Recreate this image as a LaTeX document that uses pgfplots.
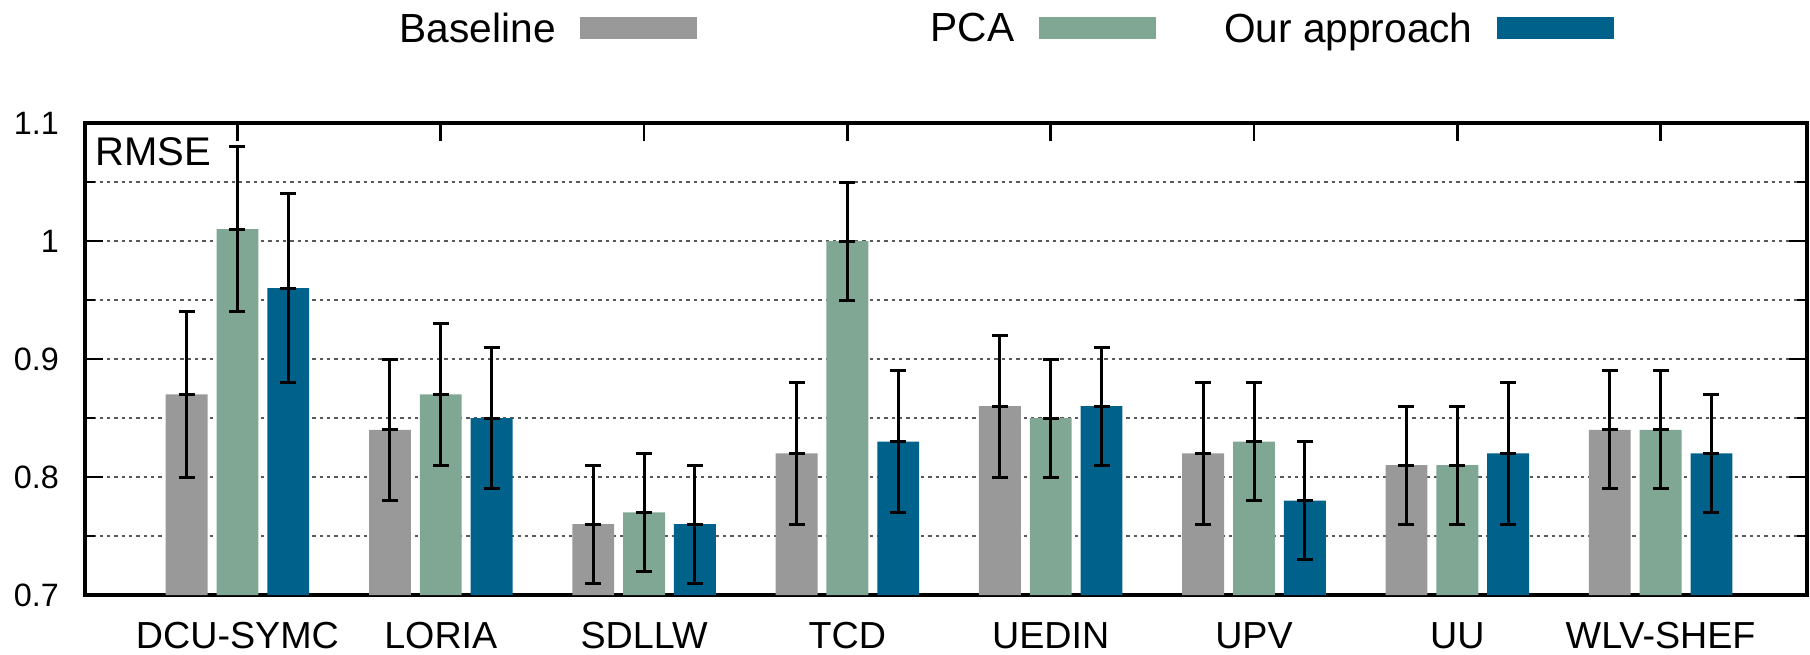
\documentclass[border=0pt]{standalone}
\usepackage{pgfplots}
\pgfplotsset{compat=1.18}
\usepackage{fontspec}
\setmainfont{Liberation Sans}
\definecolor{cbase}{RGB}{153,153,153}
\definecolor{cpca}{RGB}{128,167,148}
\definecolor{cours}{RGB}{0,98,139}
\pgfplotsset{
  myleg/.style={legend image code/.code={%
    \path[draw=none,fill=none] (0pt,-5pt) rectangle (57.55pt,12pt);
    \fill[##1,draw=none] (7.3pt,-2.7pt) rectangle (42.4pt,3.8pt);}},
  myerr/.style={
    /pgfplots/error bars/.cd, y dir=both, y explicit,
    error mark=-,
    error bar style={line width=0.9pt, black, solid},
    error mark options={rotate=90, line width=0.9pt, mark size=2.4pt, black, solid},
    /pgfplots/.cd},
}
\begin{document}
\begin{tikzpicture}
\useasboundingbox (-25.5pt,-17.7pt) rectangle (517.5pt,178.5pt);
\begin{axis}[
  scale only axis, width=516.6pt, height=141.6pt,
  xmin=-0.75, xmax=7.72, ymin=0.7, ymax=1.1,
  ybar, bar width=0.206,
  xtick={0,...,7},
  xticklabels={DCU-SYMC,LORIA,SDLLW,TCD,UEDIN,UPV,UU,WLV-SHEF},
  xtick pos=right, xticklabel pos=left,
  ytick={0.7,0.8,0.9,1.0,1.1},
  yticklabels={0.7,0.8,0.9,1,1.1},
  minor ytick={0.75,0.85,0.95,1.05},
  ymajorgrids, yminorgrids,
  major grid style={line width=0.5pt, black!65, dash pattern=on 1pt off 1.2pt},
  minor grid style={line width=0.5pt, black!65, dash pattern=on 1pt off 1.2pt},
  tick align=inside,
  major tick length=5.3pt, minor tick length=3pt,
  tick style={line width=0.8pt, black},
  axis line style={line width=1pt},
  x tick label style={font=\fontsize{11.3}{13}\selectfont, yshift=-4.6pt},
  y tick label style={font=\fontsize{9.7}{11}\selectfont, xshift=-4.3pt},
  legend columns=3, legend plot pos=right,
  legend style={at={(rel axis cs:0,1)}, anchor=south west,
    xshift=61.2pt, yshift=22.8pt, draw=none, fill=none,
    inner sep=0pt, outer sep=0pt,
    font=\fontsize{12.2}{14}\selectfont,
    nodes={inner sep=0pt}},
]
\addplot[fill=cbase, draw=none, bar shift=0, mark=-,
  mark options={black, solid, line width=0.9pt, mark size=2.4pt}, myleg, myerr]
  coordinates {(-0.25,0.87) +- (0,0.07) (0.75,0.84) +- (0,0.06) (1.75,0.76) +- (0,0.05)
  (2.75,0.82) +- (0,0.06) (3.75,0.86) +- (0,0.06) (4.75,0.82) +- (0,0.06)
  (5.75,0.81) +- (0,0.05) (6.75,0.84) +- (0,0.05)};
\addlegendentry{\makebox[80pt][r]{Baseline}}
\addplot[fill=cpca, draw=none, bar shift=0, mark=-,
  mark options={black, solid, line width=0.9pt, mark size=2.4pt}, myleg, myerr]
  coordinates {(0,1.01) +- (0,0.07) (1,0.87) +- (0,0.06) (2,0.77) +- (0,0.05)
  (3,1.00) +- (0,0.05) (4,0.85) +- (0,0.05) (5,0.83) +- (0,0.05)
  (6,0.81) +- (0,0.05) (7,0.84) +- (0,0.05)};
\addlegendentry{\makebox[80pt][r]{PCA}}
\addplot[fill=cours, draw=none, bar shift=0, mark=-,
  mark options={black, solid, line width=0.9pt, mark size=2.4pt}, myleg, myerr]
  coordinates {(0.25,0.96) +- (0,0.08) (1.25,0.85) +- (0,0.06) (2.25,0.76) +- (0,0.05)
  (3.25,0.83) +- (0,0.06) (4.25,0.86) +- (0,0.05) (5.25,0.78) +- (0,0.05)
  (6.25,0.82) +- (0,0.06) (7.25,0.82) +- (0,0.05)};
\addlegendentry{\makebox[80pt][r]{Our approach}}
\node[anchor=base west, inner sep=0pt, font=\fontsize{12}{14}\selectfont]
  at ([xshift=3pt, yshift=-12.6pt]rel axis cs:0,1) {RMSE};
\end{axis}
\end{tikzpicture}
\end{document}
